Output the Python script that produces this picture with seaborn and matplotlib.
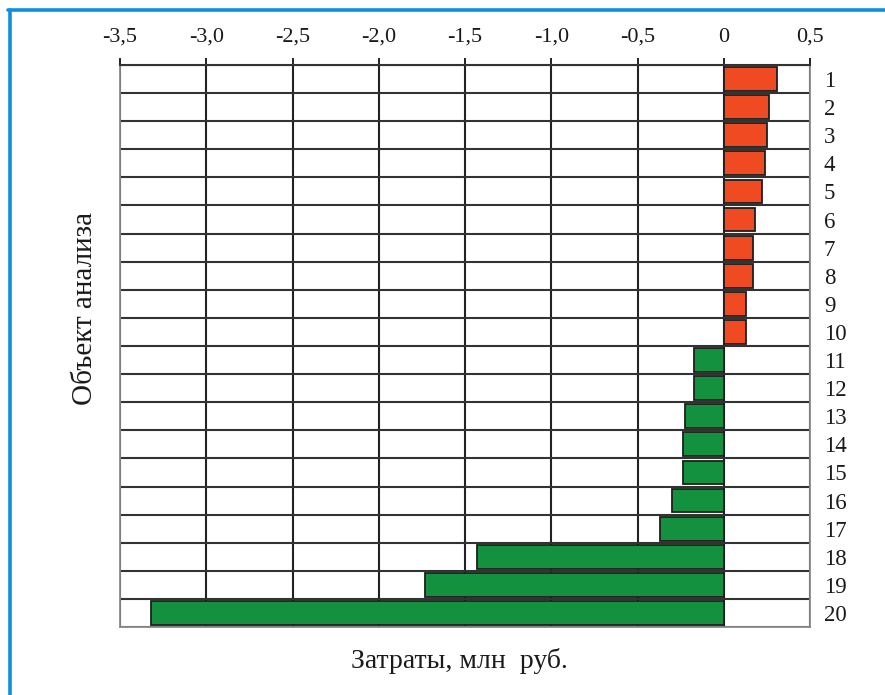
import numpy as np
import pandas as pd
import matplotlib
matplotlib.use("Agg")
import matplotlib.pyplot as plt
from matplotlib.lines import Line2D
import seaborn as sns

# Cost change per object of analysis, mln rub.
objects = [str(i) for i in range(1, 21)]
costs = [0.31, 0.26, 0.25, 0.24, 0.22, 0.18, 0.17, 0.17, 0.13, 0.13,
         -0.17, -0.17, -0.225, -0.235, -0.235, -0.30, -0.37, -1.43, -1.73, -3.32]
x_ticks = [-3.5, -3.0, -2.5, -2.0, -1.5, -1.0, -0.5, 0.0, 0.5]
x_tick_labels = ["-3,5", "-3,0", "-2,5", "-2,0", "-1,5", "-1,0", "-0,5", "0", "0,5"]

df = pd.DataFrame({"object": objects, "cost": costs})
df["sign"] = np.where(df["cost"] >= 0, "pos", "neg")

sns.set_style("white")
plt.rcParams["font.family"] = ["Liberation Serif", "DejaVu Serif"]

W, H = 885, 695
fig = plt.figure(figsize=(W / 100, H / 100), dpi=100)
ax = fig.add_axes([120 / W, 1 - 627 / H, 690 / W, 562 / H])

sns.barplot(data=df, x="cost", y="object", hue="sign", order=objects,
            palette={"pos": "#F04A22", "neg": "#14913E"}, saturation=1,
            orient="h", dodge=False, legend=False, width=0.85,
            edgecolor="#1e1e1e", linewidth=1.3, ax=ax, zorder=3)

ax.set_xlim(-3.5, 0.5)
ax.set_ylim(19.5, -0.5)

# x axis on top with comma decimals
ax.xaxis.tick_top()
ax.set_xticks(x_ticks)
ax.set_xticklabels(x_tick_labels)
ax.tick_params(axis="x", which="major", top=True, bottom=False, length=5,
               width=1.4, color="#222222", pad=8, labelsize=16, labelcolor="#1a1a1a")

# object numbers on the right
ax.yaxis.tick_right()
ax.set_yticks(range(len(objects)))
ax.set_yticklabels(objects)
ax.tick_params(axis="y", which="major", length=0, pad=10, labelsize=16.5,
               labelcolor="#1a1a1a")
ax.set_yticks(np.arange(-0.5, len(objects), 1.0), minor=True)
ax.tick_params(axis="y", which="minor", length=0)

ax.grid(True, axis="x", which="major", color="#222222", linewidth=1.5, zorder=1)
ax.grid(True, axis="y", which="minor", color="#333333", linewidth=1.5, zorder=1)
ax.grid(False, axis="y", which="major")
ax.set_axisbelow(True)

for side in ["left", "right", "bottom"]:
    ax.spines[side].set_color("#8a8a8a")
    ax.spines[side].set_linewidth(1.3)
ax.spines["top"].set_color("#333333")
ax.spines["top"].set_linewidth(1.5)

ax.set_xlabel("")
ax.set_ylabel("")
fig.text(459 / W, 1 - 661 / H, "Затраты, млн  руб.", ha="center", va="center",
         fontsize=20, color="#1a1a1a")
fig.text(85 / W, 1 - 308 / H, "Объект анализа", ha="center", va="center",
         rotation=90, fontsize=21, color="#1a1a1a")

# blue frame
fig.add_artist(Line2D([9.5 / W, 9.5 / W], [0, 1 - 9.5 / H], color="#0E8FD9",
                      linewidth=2.6, transform=fig.transFigure))
fig.add_artist(Line2D([8.2 / W, 1], [1 - 9.5 / H, 1 - 9.5 / H], color="#0E8FD9",
                      linewidth=2.6, transform=fig.transFigure))

fig.savefig("out.png", dpi=100, facecolor="white")
